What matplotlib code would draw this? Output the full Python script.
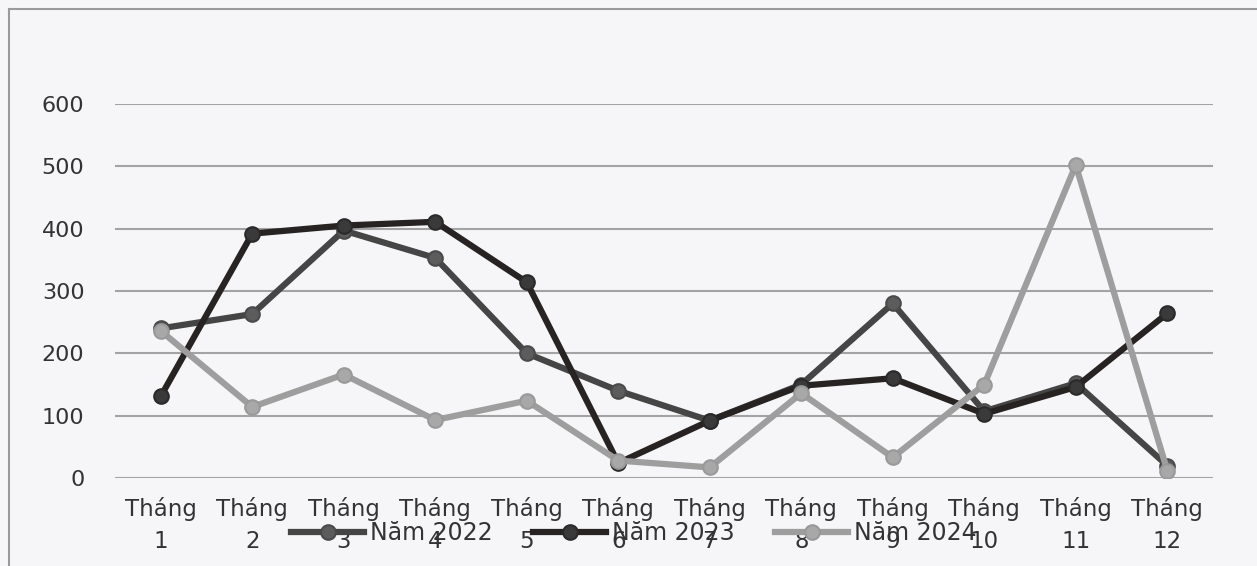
import matplotlib
matplotlib.use("Agg")
import matplotlib.pyplot as plt
from matplotlib.lines import Line2D

months = ["Tháng\n1", "Tháng\n2", "Tháng\n3", "Tháng\n4", "Tháng\n5", "Tháng\n6",
          "Tháng\n7", "Tháng\n8", "Tháng\n9", "Tháng\n10", "Tháng\n11", "Tháng\n12"]
y2022 = [240, 263, 397, 353, 200, 140, 92, 150, 280, 107, 152, 20]
y2023 = [131, 392, 405, 411, 314, 24, 92, 148, 160, 103, 146, 264]
y2024 = [236, 114, 166, 93, 124, 28, 17, 136, 33, 150, 502, 12]
series_names = ["Năm 2022", "Năm 2023", "Năm 2024"]
yticks = [0, 100, 200, 300, 400, 500, 600]

W, H = 1257, 566
fig = plt.figure(figsize=(W / 100, H / 100), dpi=100)
bg = "#f6f6f9"
fig.patch.set_facecolor(bg)

# scanned page border (left / top)
fig.add_artist(Line2D([9 / W, 9 / W], [0, 1 - 9 / H], transform=fig.transFigure,
                      color="#9a9a9a", lw=1.5))
fig.add_artist(Line2D([9 / W, 1], [1 - 9 / H, 1 - 9 / H], transform=fig.transFigure,
                      color="#9a9a9a", lw=1.5))

ax = fig.add_axes([115 / W, 1 - 478 / H, (1213 - 115) / W, (478 - 104) / H])
ax.set_facecolor(bg)

x = list(range(1, len(months) + 1))
styles = [
    dict(color="#454545", mfc="#5c5c5c", mec="#4a4a4a"),
    dict(color="#272322", mfc="#3a3a3a", mec="#2a2a2a"),
    dict(color="#9e9e9e", mfc="#a8a8a8", mec="#999999"),
]
handles = []
for vals, name, st in zip([y2022, y2023, y2024], series_names, styles):
    h, = ax.plot(x, vals, color=st["color"], lw=4.5, marker="o", markersize=10.5,
                 markerfacecolor=st["mfc"], markeredgecolor=st["mec"],
                 markeredgewidth=1.5, label=name, solid_joinstyle="round", zorder=3)
    handles.append(h)

ax.set_xlim(0.5, 12.5)
ax.set_ylim(0, 600)
ax.set_yticks(yticks)
ax.set_yticklabels([str(v) for v in yticks], fontsize=16, color="#333333",
                   family="DejaVu Sans")
ax.set_xticks(x)
ax.set_xticklabels(months, fontsize=16.5, color="#333333", family="DejaVu Sans",
                   linespacing=1.5)
ax.tick_params(axis="y", length=0, pad=22)
ax.tick_params(axis="x", length=0, pad=14)
ax.grid(axis="y", color="#a3a3a3", lw=1.5, zorder=1)
for s in ax.spines.values():
    s.set_visible(False)

fig.legend(handles=handles, loc="center", bbox_to_anchor=(634 / W, 1 - 533 / H),
           ncol=3, frameon=False, fontsize=17, handlelength=3.1, columnspacing=1.7,
           handletextpad=0.25, labelcolor="#333333")

fig.savefig("out.png", dpi=100, facecolor=bg)
